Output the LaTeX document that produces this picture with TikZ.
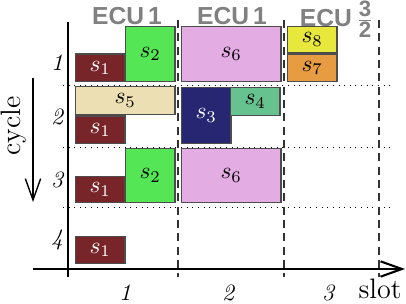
\documentclass[tikz,border=0pt]{standalone}
\usepackage{fontspec}
\newfontfamily\ecufont{Liberation Sans}
\usetikzlibrary{arrows.meta}
\definecolor{sonecol}{RGB}{119,37,40}
\definecolor{stwocol}{RGB}{85,230,85}
\definecolor{sthreecol}{RGB}{38,38,114}
\definecolor{sfourcol}{RGB}{102,194,142}
\definecolor{sfivecol}{RGB}{237,223,180}
\definecolor{ssixcol}{RGB}{227,172,227}
\definecolor{ssevencol}{RGB}{232,156,66}
\definecolor{seightcol}{RGB}{232,232,60}
\newcommand{\ecusize}{\ecufont\bfseries\fontsize{10.5}{12}\selectfont}
\newcommand{\fracsize}{\ecufont\bfseries\fontsize{9.5}{11}\selectfont}
\tikzset{
  schedfig/.style={x=0.15mm,y=-0.15mm,
    >={Straight Barb[length=3.2mm,width=2.3mm]}},
  taskbox/.style={draw=black!70,line width=0.5pt,inner sep=0pt,
    anchor=south west},
  onew/.style={minimum width=7.4mm},
  twow/.style={minimum width=14.9mm},
  halfh/.style={minimum height=4.1mm},
  fullh/.style={minimum height=8.2mm},
  darktask/.style={text=white},
  ecu/.style={font=\ecusize,text=black!50,inner sep=0pt},
  cyc/.style={font=\itshape},
  axisline/.style={line width=0.9pt},
  slotline/.style={dashed,dash pattern=on 1.2mm off 0.8mm,line width=0.5pt,black!80},
  cycline/.style={dotted,line width=0.4pt},
}
\begin{document}
\begin{tikzpicture}[schedfig]
  \useasboundingbox (0,0) rectangle (406,303);
  % grid
  \foreach \y in {85,147,207}
    \draw[cycline] (63,\y) -- (390,\y);
  \foreach \x in {178,284,379}
    \draw[slotline] (\x,20) -- (\x,277);
  % axes
  \coordinate (yaxtop) at (68,22);
  \coordinate (yaxbot) at (68,277);
  \coordinate (xaxl) at (33,269);
  \coordinate (xaxr) at (405,269);
  \draw[axisline] (yaxtop) -- (yaxbot);
  \draw[axisline,->] (xaxl) -- (xaxr);
  \node[font=\large] (slotlab) at (380,289) {slot};
  \coordinate (cyctop) at (33,78);
  \coordinate (cycbot) at (33,202);
  \draw[line width=0.6pt,->] (cyctop) -- (cycbot);
  \node[font=\large,rotate=90] (cyclab) at (14,126) {cycle};

  % ECU labels
  \node[ecu] (ecua) at (127,16) {ECU\,1};
  \node[ecu] (ecub) at (232,16) {ECU\,1};
  \node[ecu] (ecuc) at (337,19) {ECU\,$\frac{\hbox{\fracsize 3}}{\hbox{\fracsize 2}}$};

  % cycle and slot numbers
  \node[cyc] (cyca) at (57,63) {1};
  \node[cyc] (cycb) at (57,117) {2};
  \node[cyc] (cycc) at (57,180) {3};
  \node[cyc] (cycd) at (57,240) {4};
  \node[cyc] (slota) at (125,293) {1};
  \node[cyc] (slotb) at (228,293) {2};
  \node[cyc] (slotc) at (328,293) {3};

  % cycle 1
  \node[taskbox,onew,halfh,fill=sonecol,darktask] (sonea) at (75,82) {$s_1$};
  \node[taskbox,onew,fullh,fill=stwocol] (stwoa) at (125,82) {$s_2$};
  \node[taskbox,twow,fullh,fill=ssixcol] (ssixa) at (181,82) {$s_6$};
  \node[taskbox,onew,halfh,fill=ssevencol] (sseven) at (287,82) {$s_7$};
  \node[taskbox,onew,minimum height=3.9mm,fill=seightcol] (seight) at (287,53) {$s_8$};

  % cycle 2
  \node[taskbox,twow,minimum height=4.2mm,fill=sfivecol] (sfive) at (75,115) {$s_5$};
  \node[taskbox,onew,halfh,fill=sonecol,darktask] (soneb) at (75,144) {$s_1$};
  \node[taskbox,onew,minimum height=8.4mm,fill=sthreecol,darktask] (sthree) at (181,144) {$s_3$};
  \node[taskbox,onew,minimum height=4.2mm,fill=sfourcol] (sfour) at (230,116) {$s_4$};

  % cycle 3
  \node[taskbox,onew,minimum height=3.9mm,fill=sonecol,darktask] (sonec) at (75,203) {$s_1$};
  \node[taskbox,onew,minimum height=8.1mm,fill=stwocol] (stwob) at (125,203) {$s_2$};
  \node[taskbox,twow,minimum height=8.1mm,fill=ssixcol] (ssixb) at (181,203) {$s_6$};

  % cycle 4
  \node[taskbox,onew,halfh,fill=sonecol,darktask] (soned) at (75,264) {$s_1$};
\end{tikzpicture}
\end{document}
